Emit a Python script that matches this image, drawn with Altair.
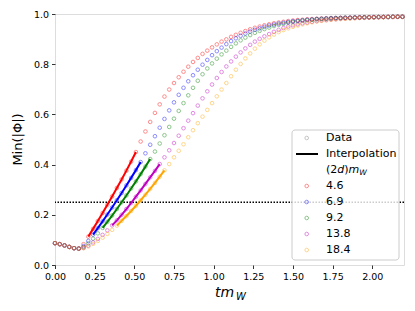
import altair as alt
import pandas as pd

# time axis t*m_W
t = [0.00, 0.03, 0.06, 0.09, 0.12, 0.15, 0.18, 0.21, 0.24, 0.27,
     0.30, 0.33, 0.36, 0.39, 0.42, 0.45, 0.48, 0.51, 0.54, 0.57,
     0.60, 0.63, 0.66, 0.69, 0.72, 0.75, 0.78, 0.81, 0.84, 0.87,
     0.90, 0.93, 0.96, 0.99, 1.02, 1.05, 1.08, 1.11, 1.14, 1.17,
     1.20, 1.23, 1.26, 1.29, 1.32, 1.35, 1.38, 1.41, 1.44, 1.47,
     1.50, 1.53, 1.56, 1.59, 1.62, 1.65, 1.68, 1.71, 1.74, 1.77,
     1.80, 1.83, 1.86, 1.89, 1.92, 1.95, 1.98, 2.01, 2.04, 2.07,
     2.10, 2.13, 2.16, 2.19]

v_46 = [0.087, 0.083, 0.078, 0.072, 0.067, 0.066, 0.083, 0.113, 0.144, 0.175,
        0.207, 0.240, 0.273, 0.307, 0.341, 0.376, 0.412, 0.450, 0.492, 0.532,
        0.570, 0.606, 0.640, 0.671, 0.699, 0.725, 0.748, 0.770, 0.790, 0.809,
        0.825, 0.841, 0.854, 0.867, 0.879, 0.890, 0.899, 0.909, 0.917, 0.925,
        0.932, 0.939, 0.945, 0.950, 0.955, 0.959, 0.963, 0.966, 0.969, 0.972,
        0.974, 0.976, 0.977, 0.979, 0.980, 0.981, 0.982, 0.983, 0.984, 0.984,
        0.985, 0.985, 0.986, 0.986, 0.987, 0.987, 0.987, 0.988, 0.988, 0.988,
        0.989, 0.989, 0.989, 0.989]

v_69 = [0.087, 0.083, 0.078, 0.072, 0.067, 0.065, 0.075, 0.096, 0.121, 0.147,
        0.174, 0.201, 0.229, 0.258, 0.287, 0.317, 0.347, 0.378, 0.410, 0.445,
        0.479, 0.513, 0.547, 0.582, 0.616, 0.648, 0.678, 0.706, 0.732, 0.756,
        0.778, 0.798, 0.817, 0.836, 0.852, 0.866, 0.880, 0.892, 0.903, 0.913,
        0.922, 0.930, 0.937, 0.943, 0.949, 0.954, 0.958, 0.962, 0.965, 0.968,
        0.971, 0.973, 0.975, 0.977, 0.978, 0.980, 0.981, 0.982, 0.983, 0.984,
        0.984, 0.985, 0.985, 0.986, 0.986, 0.987, 0.987, 0.987, 0.988, 0.988,
        0.988, 0.989, 0.989, 0.989]

v_92 = [0.087, 0.083, 0.078, 0.072, 0.067, 0.065, 0.071, 0.086, 0.105, 0.126,
        0.148, 0.172, 0.197, 0.223, 0.250, 0.277, 0.305, 0.333, 0.362, 0.392,
        0.422, 0.452, 0.484, 0.517, 0.550, 0.583, 0.614, 0.645, 0.676, 0.706,
        0.734, 0.760, 0.783, 0.803, 0.822, 0.839, 0.854, 0.869, 0.883, 0.895,
        0.906, 0.916, 0.925, 0.933, 0.940, 0.946, 0.952, 0.957, 0.961, 0.965,
        0.968, 0.971, 0.973, 0.975, 0.977, 0.979, 0.980, 0.981, 0.982, 0.983,
        0.984, 0.985, 0.985, 0.986, 0.986, 0.987, 0.987, 0.987, 0.988, 0.988,
        0.988, 0.989, 0.989, 0.989]

v_138 = [0.087, 0.083, 0.078, 0.072, 0.067, 0.065, 0.068, 0.077, 0.090, 0.104,
         0.120, 0.138, 0.158, 0.178, 0.200, 0.223, 0.247, 0.272, 0.297, 0.323,
         0.349, 0.375, 0.402, 0.429, 0.457, 0.486, 0.515, 0.545, 0.575, 0.605,
         0.635, 0.664, 0.692, 0.719, 0.745, 0.769, 0.791, 0.811, 0.830, 0.847,
         0.863, 0.877, 0.890, 0.901, 0.911, 0.920, 0.929, 0.937, 0.944, 0.950,
         0.955, 0.959, 0.963, 0.966, 0.969, 0.972, 0.974, 0.976, 0.978, 0.979,
         0.981, 0.982, 0.983, 0.984, 0.985, 0.985, 0.986, 0.987, 0.987, 0.988,
         0.988, 0.988, 0.989, 0.989]

v_184 = [0.087, 0.083, 0.078, 0.072, 0.067, 0.065, 0.067, 0.074, 0.084, 0.096,
         0.109, 0.124, 0.140, 0.157, 0.176, 0.195, 0.215, 0.236, 0.258, 0.280,
         0.303, 0.327, 0.352, 0.377, 0.402, 0.429, 0.455, 0.481, 0.509, 0.537,
         0.565, 0.591, 0.618, 0.645, 0.672, 0.699, 0.725, 0.752, 0.778, 0.801,
         0.823, 0.843, 0.862, 0.879, 0.894, 0.907, 0.918, 0.928, 0.936, 0.943,
         0.949, 0.954, 0.959, 0.963, 0.967, 0.970, 0.973, 0.975, 0.977, 0.979,
         0.980, 0.981, 0.982, 0.983, 0.984, 0.985, 0.986, 0.986, 0.987, 0.987,
         0.988, 0.988, 0.989, 0.989]

labels = ["4.6", "6.9", "9.2", "13.8", "18.4"]
colors = ["#ff0000", "#0000ff", "#008000", "#bf00bf", "#ffa500"]
series = [v_46, v_69, v_92, v_138, v_184]
interp_start = [0.21, 0.24, 0.30, 0.36, 0.39]
interp_end = [0.51, 0.54, 0.60, 0.66, 0.69]
threshold = [0.25]

x_ticks = [0.0, 0.25, 0.5, 0.75, 1.0, 1.25, 1.5, 1.75, 2.0]
y_ticks = [0.0, 0.2, 0.4, 0.6, 0.8, 1.0]

rows, line_rows = [], []
for order, (lab, vals, s, e) in enumerate(zip(labels, series, interp_start, interp_end)):
    for tt, vv in zip(t, vals):
        rows.append({"t": tt, "v": vv, "m": lab, "o": order})
        if s - 1e-9 <= tt <= e + 1e-9:
            line_rows.append({"t": tt, "v": vv, "m": lab})
df = pd.DataFrame(rows)
ldf = pd.DataFrame(line_rows)

FONT = "DejaVu Sans"
xs = alt.Scale(domain=[0, 2.2], nice=False)
ys = alt.Scale(domain=[0, 1], nice=False)
cs = alt.Scale(domain=labels, range=colors)

x_axis = alt.Axis(values=x_ticks, format=".2f", title=None, grid=False, domain=False,
                  tickSize=3.5, tickWidth=0.8, tickColor="black", labelColor="black",
                  labelFont=FONT, labelFontSize=9.5, labelPadding=3, labelFlush=False)
y_axis = alt.Axis(values=y_ticks, format=".1f", title=None, grid=False, domain=False,
                  tickSize=3.5, tickWidth=0.8, tickColor="black", labelColor="black",
                  labelFont=FONT, labelFontSize=9.5, labelPadding=3, labelFlush=False)

pts = alt.Chart(df).mark_point(shape="circle", filled=False, size=13, strokeWidth=1,
                               opacity=0.45).encode(
    x=alt.X("t:Q", scale=xs, axis=x_axis),
    y=alt.Y("v:Q", scale=ys, axis=y_axis),
    color=alt.Color("m:N", scale=cs, legend=None),
)

rule = alt.Chart(pd.DataFrame({"y": threshold})).mark_rule(
    color="black", strokeWidth=1.5, strokeDash=[1.5, 1.5]).encode(
    y=alt.Y("y:Q", scale=ys))

lines = alt.Chart(ldf).mark_line(strokeWidth=2).encode(
    x=alt.X("t:Q", scale=xs),
    y=alt.Y("v:Q", scale=ys),
    color=alt.Color("m:N", scale=cs, legend=None),
)

one = pd.DataFrame({"a": [0]})
layers = [pts, rule, lines]

# legend box
layers.append(alt.Chart(one).mark_rect(fill="white", fillOpacity=0.8, stroke="#cccccc",
                                       strokeWidth=1, cornerRadius=3).encode(
    x=alt.value(237), x2=alt.value(344), y=alt.value(116), y2=alt.value(246)))

def txt(s, x, y, size=11, italic=False, align="left", angle=None):
    kw = dict(font=FONT, fontSize=size, color="black", align=align, baseline="middle")
    if italic:
        kw["fontStyle"] = "italic"
    if angle is not None:
        kw["angle"] = angle
    return alt.Chart(one).mark_text(**kw).encode(
        x=alt.value(x), y=alt.value(y), text=alt.value(s))

def dot(color, y):
    return alt.Chart(one).mark_point(shape="circle", filled=False, size=13, strokeWidth=1,
                                     opacity=0.45, color=color).encode(
        x=alt.value(251.7), y=alt.value(y))

layers.append(dot("#808080", 124))
layers.append(txt("Data", 271, 124))
layers.append(alt.Chart(one).mark_rule(color="black", strokeWidth=2).encode(
    x=alt.value(241), x2=alt.value(263), y=alt.value(140)))
layers.append(txt("Interpolation", 271, 140))
# (2d)m_W header
layers.append(txt("(2", 271, 156))
layers.append(txt("d", 282.3, 156, italic=True))
layers.append(txt(")", 289.3, 156))
layers.append(txt("m", 293.6, 156, italic=True))
layers.append(txt("W", 304.3, 159, size=7.7, italic=True))
for i, (lab, col) in enumerate(zip(labels, colors)):
    yy = 172 + 16 * i
    layers.append(dot(col, yy))
    layers.append(txt(lab, 271, yy))

# axis titles
layers.append(txt("Min(|Φ|)", -37, 125.5, size=13, align="center", angle=270))
layers.append(alt.Chart(one).mark_text(font=FONT, fontSize=14, fontStyle="italic",
                                       color="black", align="left", baseline="alphabetic").encode(
    x=alt.value(160), y=alt.value(282.5), text=alt.value("tm")))
layers.append(alt.Chart(one).mark_text(font=FONT, fontSize=10, fontStyle="italic",
                                       color="black", align="left", baseline="alphabetic").encode(
    x=alt.value(181), y=alt.value(286), text=alt.value("W")))

chart = alt.layer(*layers).properties(
    width=349, height=251,
    autosize=alt.AutoSizeParams(type="none"),
    padding={"left": 47, "top": 6, "right": 2, "bottom": 36},
).configure_view(stroke="black", strokeWidth=1).configure(background="white")

chart.save("out.html", embed_options={"renderer": "svg", "actions": False})
